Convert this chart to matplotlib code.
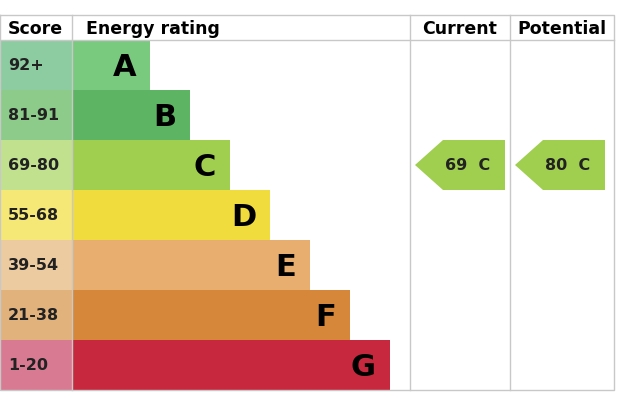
import matplotlib
matplotlib.use("Agg")
import matplotlib.pyplot as plt
from matplotlib.patches import Polygon, Rectangle

# Datos de la tabla EPC
bandas = ["A", "B", "C", "D", "E", "F", "G"]
rangos = ["92+", "81-91", "69-80", "55-68", "39-54", "21-38", "1-20"]
colores_barra = ["#79c97e", "#5db462", "#a0cf50", "#f0dc3c", "#e8ae70", "#d6873a", "#c8283e"]
colores_rango = ["#8dcca0", "#8ccb8a", "#c2e18e", "#f6e877", "#eccba0", "#e2b27c", "#d87a92"]
largo_barra = [78, 118, 158, 198, 238, 278, 318]
actual = 69
potencial = 80

def banda_de(valor):
    limites = [92, 81, 69, 55, 39, 21, 1]
    for i, lim in enumerate(limites):
        if valor >= lim:
            return i
    return 6

fig = plt.figure(figsize=(6.22, 4.02), dpi=100)
ax = fig.add_axes([0, 0, 1, 1])
ax.set_xlim(0, 622)
ax.set_ylim(402, 0)
ax.axis("off")

top, fila, cab = 16, 50, 25
x_score, x_cur, x_pot, x_fin = 72, 410, 510, 614
y0 = top + cab
borde = "#c8c8c8"

for i, b in enumerate(bandas):
    y = y0 + i * fila
    ax.add_patch(Rectangle((0, y), x_score, fila, color=colores_rango[i], lw=0))
    ax.text(8, y + fila / 2, rangos[i], ha="left", va="center", fontsize=11.5, fontweight="bold", color="#222222")
    ax.add_patch(Rectangle((x_score, y), largo_barra[i], fila, color=colores_barra[i], lw=0))
    ax.text(x_score + largo_barra[i] - 14, y + fila / 2 + 2, b, ha="right", va="center",
            fontsize=22, fontweight="bold", color="black")

# cabeceras
ax.text(8, top + cab / 2, "Score", ha="left", va="center", fontsize=12.5, fontweight="bold")
ax.text(86, top + cab / 2, "Energy rating", ha="left", va="center", fontsize=12.5, fontweight="bold")
ax.text((x_cur + x_pot) / 2, top + cab / 2, "Current", ha="center", va="center", fontsize=12.5, fontweight="bold")
ax.text((x_pot + x_fin) / 2, top + cab / 2, "Potential", ha="center", va="center", fontsize=12.5, fontweight="bold")

# lineas de la tabla
fondo = y0 + 7 * fila
ax.plot([0, x_fin, x_fin, 0, 0], [top, top, fondo, fondo, top], color=borde, lw=1)
ax.plot([0, x_fin], [y0, y0], color=borde, lw=1)
for x in [x_score, x_cur, x_pot]:
    ax.plot([x, x], [top, fondo], color=borde, lw=1)

def flecha(x_izq, valor):
    i = banda_de(valor)
    y = y0 + i * fila
    w = 90
    pts = [(x_izq, y + fila / 2), (x_izq + 28, y), (x_izq + w, y), (x_izq + w, y + fila), (x_izq + 28, y + fila)]
    ax.add_patch(Polygon(pts, closed=True, color=colores_barra[i], lw=0))
    ax.text(x_izq + 53, y + fila / 2, f"{valor}  {bandas[i]}", ha="center", va="center",
            fontsize=11.5, fontweight="bold", color="#222222")

flecha(x_cur + 5, actual)
flecha(x_pot + 5, potencial)

fig.savefig("out.png", dpi=100)
